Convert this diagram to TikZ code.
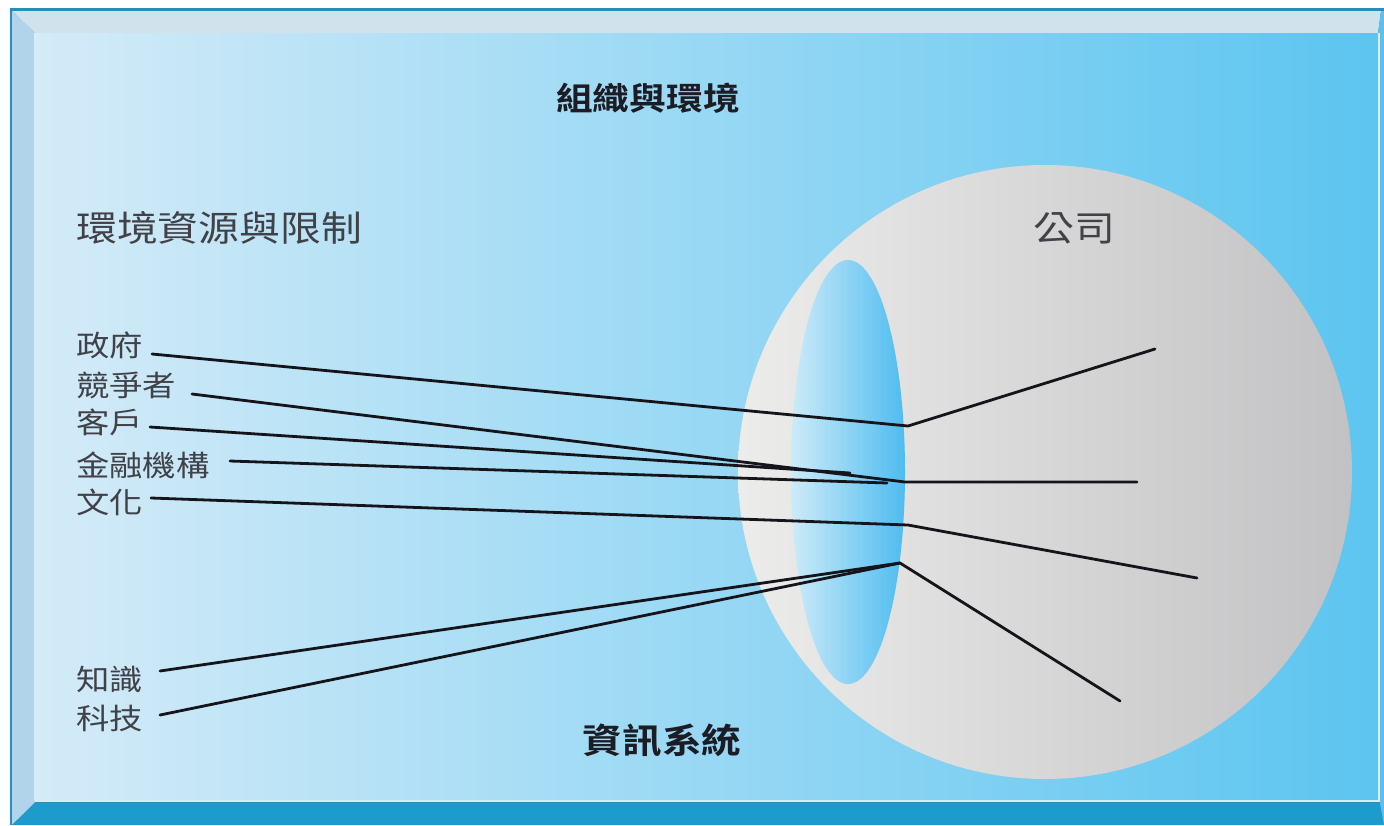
\documentclass[tikz,border=0pt]{standalone}
\usepackage{fontspec}
\newfontfamily\cjk[FakeStretch=1.15]{Noto Sans CJK TC}
\newfontfamily\cjkbold[FakeStretch=1.15]{Noto Sans CJK TC Bold}
\definecolor{frameDark}{RGB}{40,140,190}
\definecolor{bevelTop}{RGB}{208,226,236}
\definecolor{bevelLeft}{RGB}{178,212,234}
\definecolor{bevelBottom}{RGB}{30,155,205}
\definecolor{bevelRight}{RGB}{95,190,235}
\definecolor{panelL}{RGB}{212,235,248}
\definecolor{panelM}{RGB}{155,215,243}
\definecolor{panelR}{RGB}{92,197,240}
\definecolor{rimLight}{RGB}{215,238,250}
\definecolor{ballL}{RGB}{236,236,235}
\definecolor{ballR}{RGB}{194,194,196}
\definecolor{lensL}{RGB}{205,235,248}
\definecolor{lensR}{RGB}{78,188,240}
\definecolor{txtGray}{RGB}{65,65,72}
\definecolor{txtDark}{RGB}{28,28,36}
\definecolor{wire}{RGB}{20,20,26}
\tikzset{
  lab/.style={inner sep=0pt, text=txtGray, font=\cjk\fontsize{29}{31}\selectfont, anchor=west},
  biglab/.style={inner sep=0pt, text=txtGray, font=\cjk\fontsize{35.5}{38}\selectfont},
  title/.style={inner sep=0pt, text=txtDark, font=\cjkbold\fontsize{32}{36}\selectfont},
  title2/.style={inner sep=0pt, text=txtDark, font=\cjkbold\fontsize{34.5}{38}\selectfont},
  wireline/.style={draw=wire, line width=2.8pt, line join=round, line cap=round}
}
\begin{document}
\begin{tikzpicture}[x=1pt,y=-1pt]
\useasboundingbox (0,0) rectangle (1384,825);
% outer background and frame
\fill[white] (0,0) rectangle (1384,825);
\fill[frameDark] (10,8) rectangle (1384,825);
\fill[bevelTop] (12,11) -- (1381,11) -- (1378,33) -- (35,33) -- cycle;
\fill[bevelLeft] (12,11) -- (35,33) -- (35,802) -- (12,825) -- cycle;
\fill[bevelBottom] (12,825) -- (35,803) -- (1380,803) -- (1384,825) -- cycle;
\fill[bevelRight] (1378,33) -- (1381,11) -- (1384,11) -- (1384,825) -- (1380,803) -- cycle;
% panel
\shade[left color=panelL, middle color=panelM, right color=panelR] (35,33) rectangle (1378,801);
\draw[rimLight, line width=2pt] (35,801) -- (1379,801) -- (1379,33);
\draw[rimLight, line width=1.5pt] (35,33) -- (35,801);
% sphere and lens
\shade[left color=ballL, right color=ballR] (1045,472) circle[radius=307];
\shade[left color=lensL, right color=lensR] (848,472) ellipse[x radius=57, y radius=212];
% texts
\node[title] (org) at (648,98) {組織與環境};
\node[biglab, anchor=west] (env) at (76,228) {環境資源與限制};
\node[biglab] (firm) at (1074,228) {公司};
\node[title2] (is) at (662,740) {資訊系統};
\node[lab] (gov) at (76,345) {政府};
\node[lab] (comp) at (76,385) {競爭者};
\node[lab] (cust) at (76,422) {客戶};
\node[lab] (fin) at (76,465) {金融機構};
\node[lab] (cult) at (76,502) {文化};
\node[lab] (know) at (76,679) {知識};
\node[lab] (tech) at (76,718) {科技};
% connector points
\coordinate (govS) at (152,354);
\coordinate (compS) at (192,394);
\coordinate (custS) at (150,427);
\coordinate (finS) at (230,461);
\coordinate (cultS) at (151,498);
\coordinate (knowS) at (160,671);
\coordinate (techS) at (160,715);
\coordinate (jA) at (908,426);
\coordinate (jB) at (905,482);
\coordinate (custE) at (850,473);
\coordinate (finE) at (887,483);
\coordinate (jC) at (908,525);
\coordinate (jD) at (900,563);
\coordinate (eA) at (1155,349);
\coordinate (eB) at (1137,482);
\coordinate (eC) at (1197,578);
\coordinate (eD) at (1120,701);
% connectors
\draw[wireline] (govS) -- (jA) -- (eA);
\draw[wireline] (compS) -- (jB) -- (eB);
\draw[wireline] (custS) -- (custE);
\draw[wireline] (finS) -- (finE);
\draw[wireline] (cultS) -- (jC) -- (eC);
\draw[wireline] (knowS) -- (jD);
\draw[wireline] (techS) -- (jD) -- (eD);
\end{tikzpicture}
\end{document}
